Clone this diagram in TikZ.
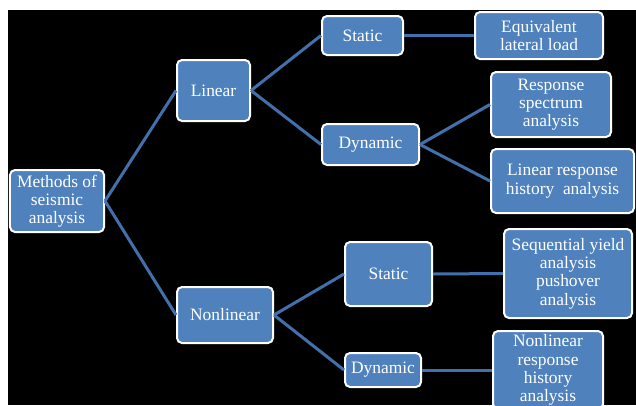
\documentclass[tikz,border=0pt]{standalone}
\usepackage{fontspec}
\setmainfont{Liberation Serif}
\usetikzlibrary{positioning}

\definecolor{boxblue}{RGB}{79,129,189}
\definecolor{lineblue}{RGB}{66,112,172}

\begin{document}
\begin{tikzpicture}[x=1bp,y=-1bp,
  box/.style={draw=white, line width=2bp, fill=boxblue, rounded corners=5bp,
    text=white, align=center, inner sep=1bp, font=\fontsize{17.5}{18.3}\selectfont},
  link/.style={draw=lineblue, line width=3bp}]
\useasboundingbox (0,0) rectangle (636,405);
\clip (0,0) rectangle (636,405);
\fill[black] (8,10) rectangle (636,405);

% root and the two kinds
\node[box, minimum width=94bp, minimum height=62bp] (meth) at (57,201) {Methods of\\seismic\\analysis};
\node[box, minimum width=73bp, minimum height=61bp] (lin) at (213.5,90.5) {Linear};
\node[box, minimum width=96bp, minimum height=56bp] (nonlin) at (225,315) {Nonlinear};

% static / dynamic
\node[box, minimum width=81bp, minimum height=39bp] (linstat) at (362.5,35.5) {Static};
\node[box, minimum width=97bp, minimum height=41bp] (lindyn) at (370.5,144.5) {Dynamic};
\node[box, minimum width=87bp, minimum height=64bp] (nlstat) at (388.5,274) {Static};
\node[box, minimum width=76bp, minimum height=34bp] (nldyn) at (383,370) {Dynamic};

% methods
\node[box, minimum width=128bp, minimum height=47bp] (equiv) at (539,35.5) {Equivalent\\lateral load};
\node[box, minimum width=120bp, minimum height=65bp] (spec) at (551,104.5) {Response\\spectrum\\analysis};
\node[box, minimum width=143bp, minimum height=64bp] (linhist) at (562.5,181) {Linear response\\history~ analysis};
\node[box, minimum width=128bp, minimum height=89bp] (push) at (568,273.5) {Sequential yield\\analysis\\pushover\\analysis};
\node[box, minimum width=110bp, minimum height=78bp] (nlhist) at (548,370) {Nonlinear\\response\\history\\analysis};

% connectors
\foreach \from/\to in {meth/lin, meth/nonlin, lin/linstat, lin/lindyn,
    nonlin/nlstat, nonlin/nldyn, linstat/equiv, lindyn/spec, lindyn/linhist,
    nlstat/push, nldyn/nlhist}
  \draw[link] (\from.east) -- (\to.west);
\end{tikzpicture}
\end{document}
